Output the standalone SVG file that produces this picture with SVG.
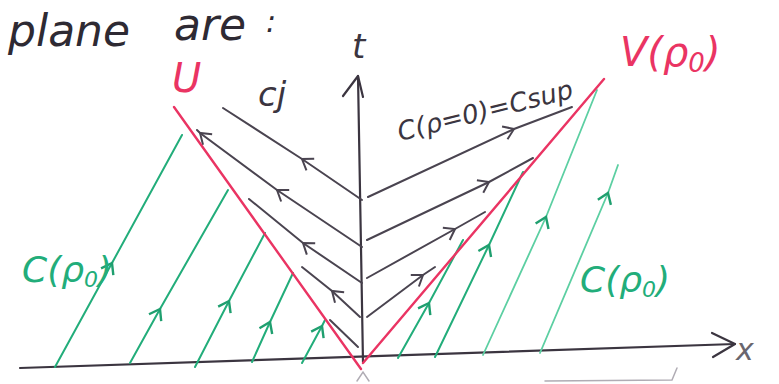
<svg xmlns="http://www.w3.org/2000/svg" width="779" height="384" viewBox="0 0 779 384">
<style>
.ax{fill:none;stroke:#3b3540;stroke-width:2.2;stroke-linecap:round;stroke-linejoin:round}
.bk{fill:none;stroke:#4a4450;stroke-width:2;stroke-linecap:round;marker-mid:url(#ab)}
.bk0{fill:none;stroke:#4a4450;stroke-width:2;stroke-linecap:round}
.gr{fill:none;stroke:#22ad7a;stroke-width:2;stroke-linecap:round;marker-mid:url(#ag)}
.gl{fill:none;stroke:#5ccfa2;stroke-width:1.8;stroke-linecap:round;marker-mid:url(#ag)}
.rd{fill:none;stroke:#ea3463;stroke-width:2.4;stroke-linecap:round}
.faint{fill:none;stroke:#b0acb4;stroke-width:1.5;stroke-linecap:round}
.t{font-family:"DejaVu Sans",sans-serif;font-style:italic}
</style>
<defs>
<marker id="ab" viewBox="-12 -9 14 18" markerWidth="14" markerHeight="18" markerUnits="userSpaceOnUse" refX="0" refY="0" orient="auto"><path d="M-10,-7 L0,0 L-10,7" fill="none" stroke="#4a4450" stroke-width="2"/></marker>
<marker id="ag" viewBox="-12 -9 14 18" markerWidth="14" markerHeight="18" markerUnits="userSpaceOnUse" refX="0" refY="0" orient="auto"><path d="M-10,-7 L0,0 L-10,7" fill="none" stroke="#1f9f6f" stroke-width="2.4"/></marker>
</defs>

<g id="title">
<text class="t" x="8" y="46" font-size="44" fill="#2e2a33">plane</text>
<text class="t" x="174" y="40" font-size="44" fill="#2e2a33">are</text>
<text class="t" x="266" y="32" font-size="30" fill="#2e2a33">:</text>
</g>

<g id="axes">
<path class="ax" d="M20,368 L735,344"/>
<path class="ax" d="M712,333 L735,344 L713,357"/>
<path class="ax" d="M363,362 L358,76"/>
<path class="ax" d="M343,96 L358,76 L363,97"/>
<text class="t" x="352" y="58" font-size="34" fill="#3b3540">t</text>
<text class="t" x="736" y="360" font-size="30" fill="#6a666e">x</text>
</g>

<g id="faint-marks">
<path class="faint" d="M677,368 L672,380 L545,381"/>
<path class="faint" d="M357,381 L363,372 L369,381"/>
</g>

<g id="connectors">
<path class="bk" d="M362,200 L302,159 L223,108"/>
<path class="bk" d="M362,247 L277,190 L200,133 L197,130"/>
<path class="bk" d="M362,283 L303,243 L249,199"/>
<path class="bk" d="M360,317 L332,291 L302,267"/>
<path class="bk0" d="M358,347 L330,320"/>
<path class="bk" d="M368,197 L514,129 L572,107"/>
<path class="bk" d="M367,240 L489,182 L533,158"/>
<path class="bk" d="M367,278 L455,229 L485,212"/>
<path class="bk" d="M367,317 L423,275 L435,267"/>
<path class="gr" d="M55,367 L112,263 L182,135"/>
<path class="gr" d="M130,363 L160,309 L228,190"/>
<path class="gr" d="M195,367 L229,301 L265,233"/>
<path class="gr" d="M252,362 L270,322 L293,273"/>
<path class="gr" d="M302,363 L322,326 L325,320"/>
<path class="gr" d="M398,358 L429,303 L463,240"/>
<path class="gr" d="M435,357 L489,245 L523,172"/>
<path class="gl" d="M483,355 L546,217 L597,90"/>
<path class="gl" d="M540,353 L608,193 L618,165"/>
<path class="rd" d="M174,107 L361,369"/>
<path class="rd" d="M363,363 L604,79"/>
</g>

<g id="labels">
<text class="t" x="172" y="92" font-size="40" fill="#ea3463">U</text>
<text class="t" x="620" y="66" font-size="40" fill="#ea3463">V(ρ<tspan font-size="26" dy="6">0</tspan><tspan dy="-6">)</tspan></text>
<text class="t" x="22" y="282" font-size="36" fill="#22ad7a">C(ρ<tspan font-size="22" dy="5">0</tspan><tspan dy="-5">)</tspan></text>
<text class="t" x="580" y="292" font-size="36" fill="#22ad7a">C(ρ<tspan font-size="22" dy="5">0</tspan><tspan dy="-5">)</tspan></text>
<text class="t" x="258" y="106" font-size="34" fill="#3b3540">cj</text>
<text class="t" x="400" y="141" font-size="26" fill="#3b3540" transform="rotate(-14 400 141)">C(ρ=0)=Csup</text>
</g>
</svg>
